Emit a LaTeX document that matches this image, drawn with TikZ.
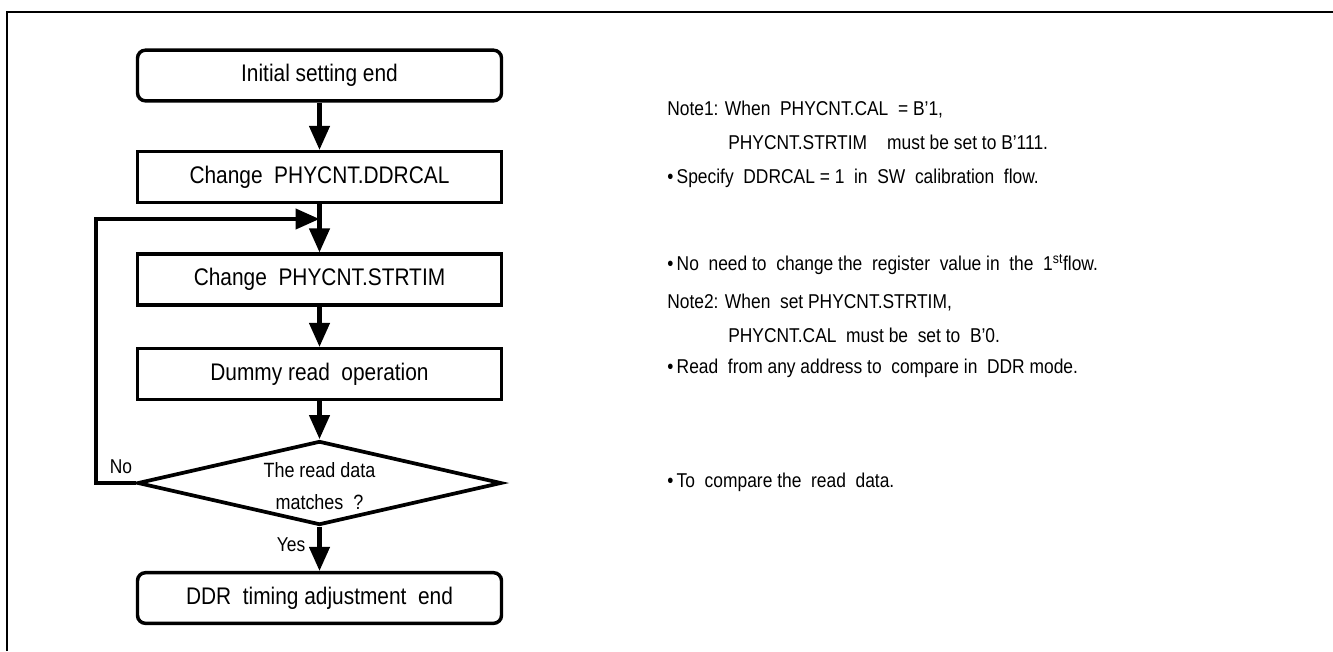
\documentclass[tikz,border=0pt]{standalone}
\usepackage{fontspec}
\setmainfont{Liberation Sans}[FakeStretch=0.87]
\usetikzlibrary{arrows.meta,shapes.geometric}
\begin{document}
\begin{tikzpicture}[x=0.75pt,y=-0.75pt,
  box/.style={draw,line width=2.6pt,minimum width=273pt,minimum height=38pt,inner sep=0pt,font=\fontsize{18}{20}\selectfont},
  rbox/.style={box,rounded corners=6pt},
  dec/.style={draw,diamond,aspect=4.33,line width=2.8pt,minimum width=273pt,minimum height=63pt,inner sep=0pt},
  dtext/.style={inner sep=0pt,align=center,font=\fontsize{15.5}{24}\selectfont},
  flow/.style={line width=3.2pt,-{Triangle[width=15pt,length=18pt]}},
  note/.style={anchor=west,inner sep=0pt,font=\fontsize{15}{16}\selectfont},
  lab/.style={inner sep=0pt,font=\fontsize{15}{17}\selectfont}]
\useasboundingbox (0,0) rectangle (1333,651);
\draw[line width=1.6pt] (7,651) -- (7,12) -- (1333,12);
\node[rbox] (b1) at (319.5,75.5) {Initial setting end};
\node[box] (b2) at (319.5,177) {Change\ \ PHYCNT.DDRCAL};
\node[box] (b3) at (319.5,279.5) {Change\ \ PHYCNT.STRTIM};
\node[box] (b4) at (319.5,374) {Dummy read\ \ operation};
\node[dec] (d) at (319.5,483) {};
\node[dtext] (dt) at (319.5,486) {The read data\\matches\ \ ?};
\node[rbox] (b5) at (319.5,598) {DDR\ \ timing adjustment\ \ end};
\coordinate (j) at (319.5,219);
\coordinate (lp) at (96,219);
\draw[flow] (b1) -- (b2);
\draw[flow] (b2) -- (b3);
\draw[flow] (b3) -- (b4);
\draw[flow] (b4) -- (d);
\draw[flow] (d) -- (b5);
\draw[flow] (d.west) -| (lp) -- (j);
\node[lab] (no) at (121,467) {No};
\node[lab] (yes) at (291,545) {Yes};
\node[note] (n1) at (667,110) {Note1: When\ \ PHYCNT.CAL\ \ = B’1,};
\node[note] (n1b) at (728,142) {PHYCNT.STRTIM\quad must be set to B’111.};
\node[note] (n2) at (667,178) {\textbullet\,Specify\ \ DDRCAL = 1\ \ in\ \ SW\ \ calibration\ \ flow.};
\node[note] (n3) at (667,265) {\textbullet\,No\ \ need to\ \ change the\ \ register\ \ value in\ \ the\ \ 1\textsuperscript{st}flow.};
\node[note] (n4) at (667,303) {Note2: When\ \ set PHYCNT.STRTIM,};
\node[note] (n4b) at (728,335) {PHYCNT.CAL\ \ must be\ \ set to\ \ B’0.};
\node[note] (n5) at (667,368) {\textbullet\,Read\ \ from any address to\ \ compare in\ \ DDR mode.};
\node[note] (n6) at (667,482) {\textbullet\,To\ \ compare the\ \ read\ \ data.};
\end{tikzpicture}
\end{document}
